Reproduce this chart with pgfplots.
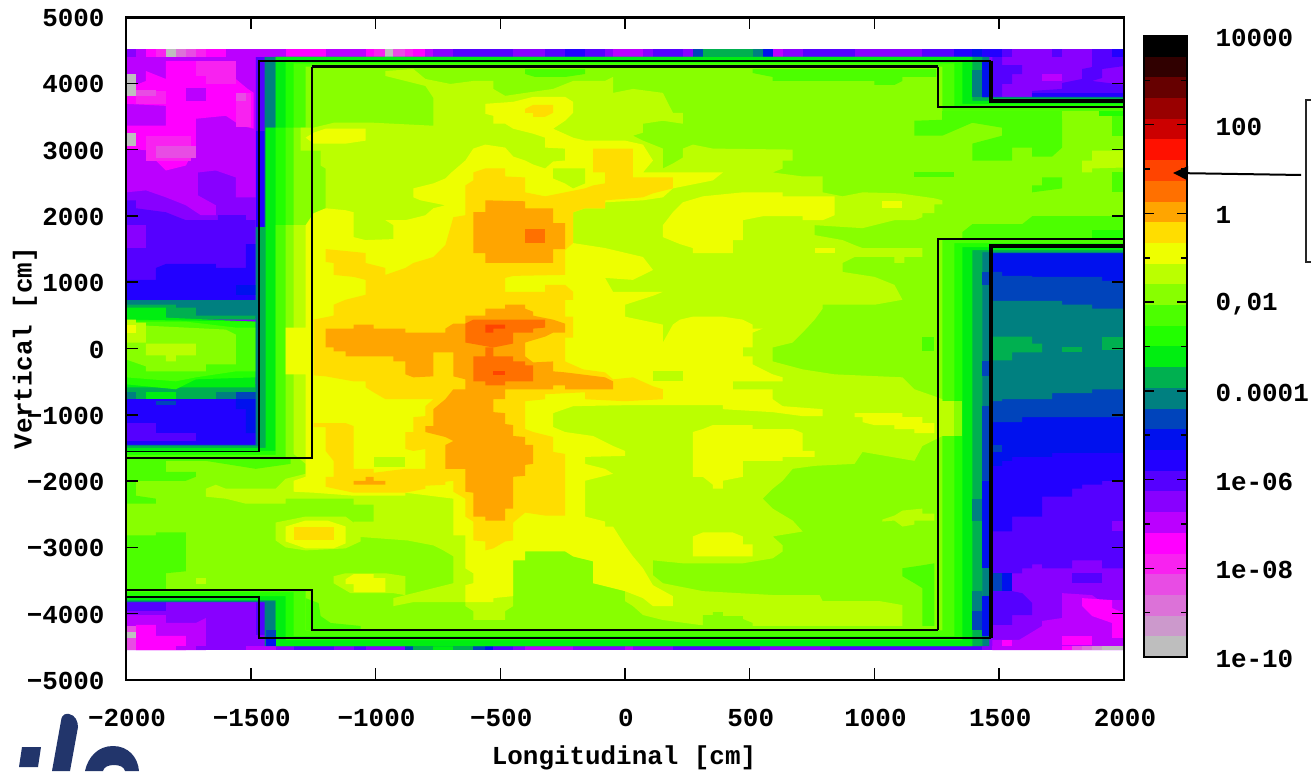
\documentclass[border=0pt]{standalone}
\usepackage{fontspec}
\setmainfont{Liberation Mono}[BoldFont={Liberation Mono Bold}]
\usepackage{pgfplots}
\pgfplotsset{compat=1.18}
\usetikzlibrary{arrows.meta}
\definecolor{L01}{HTML}{BEBEBE}\definecolor{L02}{HTML}{CC99CC}\definecolor{L03}{HTML}{DC72D8}
\definecolor{L04}{HTML}{E84CE4}\definecolor{L05}{HTML}{F822F0}\definecolor{L06}{HTML}{FF00FF}
\definecolor{L07}{HTML}{BB00FF}\definecolor{L08}{HTML}{8800FF}\definecolor{L09}{HTML}{5500FF}
\definecolor{L10}{HTML}{2200FF}\definecolor{L11}{HTML}{0011EE}\definecolor{L12}{HTML}{0044BB}
\definecolor{L13}{HTML}{008080}\definecolor{L14}{HTML}{00B050}\definecolor{L15}{HTML}{00EE11}
\definecolor{L16}{HTML}{22FF00}\definecolor{L17}{HTML}{4CFF00}\definecolor{L18}{HTML}{88FF00}
\definecolor{L19}{HTML}{BBFF00}\definecolor{L20}{HTML}{EEFF00}\definecolor{L21}{HTML}{FFDD00}
\definecolor{L22}{HTML}{FFA500}\definecolor{L23}{HTML}{FF7000}\definecolor{L24}{HTML}{FF4400}
\definecolor{L25}{HTML}{FF1100}\definecolor{L26}{HTML}{CC0000}\definecolor{L27}{HTML}{990000}
\definecolor{L28}{HTML}{660000}\definecolor{L29}{HTML}{300000}\definecolor{L30}{HTML}{000000}
\definecolor{logoblue}{HTML}{22356B}
\newcommand{\lay}[2]{\addplot[fill=#1,draw=none,forget plot] coordinates {#2} -- cycle;}
\newcommand{\st}[5]{\addplot[fill=#1,draw=none,forget plot] coordinates {(#2,#4)(#3,#4)(#3,#5)(#2,#5)} -- cycle;}
\newcommand{\band}[3]{\addplot[fill=#1,draw=none,forget plot] coordinates {(0,#2)(1,#2)(1,#3)(0,#3)} -- cycle;}
\newcommand{\tf}{\fontsize{26}{26}\selectfont\bfseries}
\begin{document}
\begin{tikzpicture}[x=1bp,y=1bp]
\path[use as bounding box] (0,0) rectangle (1311,771);
\begin{axis}[
  at={(126bp,91bp)},anchor=south west,scale only axis,width=998bp,height=663bp,
  xmin=-2000,xmax=2000,ymin=-5000,ymax=5000,
  axis on top,
  axis line style={line width=2bp},
  tick style={line width=1.5bp,black},
  tick align=inside,major tick length=12bp,
  xtick={-2000,-1500,-1000,-500,0,500,1000,1500,2000},
  xticklabels={−2000,−1500,−1000,−500,0,500,1000,1500,2000},
  ytick={-5000,-4000,-3000,-2000,-1000,0,1000,2000,3000,4000,5000},
  yticklabels={−5000,−4000,−3000,−2000,−1000,0,1000,2000,3000,4000,5000},
  tick label style={font=\tf},
  xticklabel style={yshift=-26bp,xshift=1bp},
  yticklabel style={xshift=-18bp,yshift=-1bp},
  clip=true,
]
% base
\lay{L08}{(-2000,-4550)(2000,-4550)(2000,4515)(-2000,4515)}
% upper-left block
\lay{L07}{(-2000,4515)(-1480,4515)(-1480,2280)(-1560,2280)(-1560,2580)(-1640,2685)(-1712,2655)(-1712,2310)(-1640,2160)(-1640,2010)(-1700,2010)(-1760,2160)(-1840,2280)(-1920,2385)(-2000,2355)}
\lay{L06}{(-1840,4335)(-1640,4335)(-1560,4155)(-1560,4065)(-1512,3915)(-1488,3855)(-1488,3315)(-1540,3360)(-1600,3510)(-1720,3465)(-1720,3060)(-1760,2760)(-1840,2685)(-1880,2835)(-1900,2985)(-2000,3015)(-2000,3360)(-1840,3360)(-1840,3660)(-2000,3690)(-2000,3915)(-1920,4035)(-1920,4185)(-1840,4065)}
\lay{L07}{(-1760,3930)(-1680,3930)(-1680,3735)(-1760,3735)}
\lay{L05}{(-1960,3885)(-1840,3885)(-1840,3690)(-1960,3690)}
\lay{L05}{(-1720,4335)(-1560,4335)(-1560,4110)(-1720,4110)}
\lay{L05}{(-1680,4110)(-1560,4110)(-1560,3990)(-1680,3990)}
\lay{L05}{(-1560,3855)(-1500,3855)(-1500,3345)(-1560,3345)}
\lay{L05}{(-1920,3210)(-1740,3210)(-1740,2835)(-1920,2835)}
\lay{L04}{(-1880,3060)(-1720,3060)(-1720,2880)(-1880,2880)}
\lay{L04}{(-1960,3900)(-1880,3900)(-1880,3810)(-1960,3810)}
\lay{L04}{(-1560,3855)(-1520,3855)(-1520,3735)(-1560,3735)}
\lay{L01}{(-2000,4140)(-1960,4140)(-1960,3810)(-2000,3810)}
\lay{L01}{(-2000,3255)(-1960,3255)(-1960,3060)(-2000,3060)}
\lay{L09}{(-2000,2235)(-1960,2235)(-1960,2115)(-1840,2055)(-1760,1935)(-1632,1935)(-1632,2010)(-1520,2010)(-1520,1935)(-1480,1935)(-1480,735)(-2000,735)}
\lay{L08}{(-2000,1860)(-1920,1860)(-1920,1515)(-2000,1515)}
\lay{L09}{(-1480,4400)(-1440,4400)(-1440,3285)(-1480,3285)}
\lay{L10}{(-1480,3285)(-1440,3285)(-1440,1830)(-1480,1830)}
\lay{L10}{(-2000,1035)(-1880,1035)(-1880,1215)(-1840,1275)(-1640,1275)(-1640,1215)(-1520,1215)(-1520,1575)(-1480,1575)(-1480,660)(-2000,660)}
\lay{L11}{(-1560,960)(-1480,960)(-1480,810)(-1560,810)}
% left chamber
\lay{L13}{(-2000,735)(-1480,735)(-1480,465)(-2000,465)}
\lay{L14}{(-2000,660)(-1800,660)(-1800,615)(-1720,615)(-1720,495)(-1480,495)(-1480,435)(-2000,435)}
\lay{L13}{(-2000,-540)(-1480,-540)(-1480,-780)(-2000,-780)}
\lay{L14}{(-2000,-585)(-1480,-585)(-1480,-765)(-2000,-765)}
\lay{L13}{(-1640,-660)(-1560,-660)(-1560,-765)(-1640,-765)}
\lay{L12}{(-1560,-660)(-1480,-660)(-1480,-765)(-1560,-765)}
\lay{L15}{(-1920,-660)(-1800,-660)(-1800,-765)(-1920,-765)}
\lay{L13}{(-2000,-660)(-1960,-660)(-1960,-765)(-2000,-765)}
\lay{L15}{(-2000,615)(-1840,615)(-1840,465)(-1480,405)(-1480,-585)(-2000,-585)}
\lay{L16}{(-2000,435)(-1480,405)(-1480,-435)(-1720,-465)(-1800,-615)(-2000,-540)}
\lay{L17}{(-2000,405)(-1760,405)(-1560,315)(-1480,315)(-1480,-345)(-1560,-345)(-1720,-435)(-1800,-495)(-2000,-435)}
\lay{L18}{(-2000,405)(-1920,345)(-1600,285)(-1560,210)(-1560,-240)(-1680,-240)(-1680,-345)(-1920,-345)(-1920,-270)(-2000,-165)}
\lay{L19}{(-1920,75)(-1720,75)(-1720,-105)(-1800,-105)(-1800,-195)(-1840,-195)(-1840,-105)(-1920,-105)}
\lay{L19}{(-2000,435)(-1960,435)(-1960,390)(-1920,390)(-1920,90)(-2000,90)}
\lay{L20}{(-2000,360)(-1960,360)(-1960,240)(-2000,240)}
\lay{L10}{(-2000,-765)(-1480,-765)(-1480,-1455)(-2000,-1455)}
\lay{L11}{(-1560,-765)(-1480,-765)(-1480,-1275)(-1520,-1275)(-1520,-915)(-1560,-915)}
\lay{L12}{(-1880,-795)(-1800,-795)(-1800,-855)(-1880,-855)}
\lay{L09}{(-2000,-1125)(-1880,-1125)(-1880,-1275)(-1720,-1275)(-1720,-1395)(-2000,-1395)}
% bottom-left block
\lay{L09}{(-2000,-3825)(-1840,-3825)(-1840,-3960)(-2000,-3960)}
\lay{L07}{(-2000,-4020)(-1840,-4020)(-1840,-4140)(-1720,-4140)(-1680,-4065)(-1680,-4550)(-2000,-4550)}
\lay{L06}{(-1960,-4170)(-1880,-4170)(-1880,-4335)(-1760,-4335)(-1760,-4550)(-1960,-4550)}
\lay{L04}{(-2000,-4185)(-1960,-4185)(-1960,-4550)(-2000,-4550)}
\lay{L01}{(-2000,-4275)(-1960,-4275)(-1960,-4365)(-2000,-4365)}
\lay{L09}{(-1480,-3825)(-1440,-3825)(-1440,-4320)(-1480,-4320)}
% upper-right block
\lay{L09}{(1472,4395)(1512,4395)(1512,4275)(1592,4275)(1592,4140)(1552,4140)(1552,3990)(1512,3990)(1512,3795)(1472,3795)}
\lay{L09}{(1872,4395)(2000,4395)(2000,4260)(1912,4215)(1912,4080)(1872,4035)(2000,3975)(2000,3795)(1632,3795)(1632,3885)(1752,3915)(1752,4005)(1832,4065)(1832,4215)(1872,4245)}
\lay{L07}{(1672,4140)(1752,4140)(1752,4035)(1672,4035)}
\lay{L10}{(1632,3855)(2000,3855)(2000,3795)(1632,3795)}
% lower-right block
\lay{L09}{(1460,1440)(2000,1440)(2000,-3315)(1912,-3315)(1912,-3195)(1792,-3195)(1792,-3315)(1672,-3315)(1672,-3255)(1632,-3255)(1632,-3315)(1592,-3315)(1592,-3390)(1460,-3390)}
\lay{L08}{(1952,-2595)(2000,-2595)(2000,-2760)(1952,-2760)}
\lay{L10}{(1460,1440)(2000,1440)(2000,-1995)(1912,-1995)(1912,-2055)(1832,-2055)(1832,-2115)(1792,-2115)(1792,-2235)(1672,-2235)(1672,-2535)(1552,-2535)(1552,-2760)(1460,-2760)}
\lay{L11}{(1460,1440)(2000,1440)(2000,-1575)(1712,-1575)(1712,-1635)(1552,-1635)(1552,-1695)(1512,-1695)(1512,-1770)(1460,-1770)}
\lay{L12}{(1472,-1455)(1512,-1455)(1512,-1560)(1472,-1560)}
\lay{L12}{(1460,1155)(1512,1155)(1512,1095)(1632,1095)(1632,1080)(1912,1080)(1912,1020)(2000,1020)(2000,-1035)(1592,-1035)(1592,-1110)(1460,-1110)}
\lay{L13}{(1460,720)(1752,720)(1752,660)(1872,660)(1872,600)(2000,600)(2000,-615)(1872,-615)(1872,-675)(1712,-675)(1712,-765)(1512,-765)(1512,-795)(1460,-795)}
\lay{L14}{(1460,180)(1632,180)(1632,75)(1672,75)(1672,-60)(1552,-60)(1552,-180)(1460,-180)}
\lay{L14}{(1752,15)(1832,15)(1832,-60)(1752,-60)}
\lay{L14}{(1912,180)(2000,180)(2000,-30)(1912,-30)}
\lay{L11}{(1472,-3390)(1552,-3390)(1552,-3660)(1472,-3660)}
\lay{L12}{(1472,-3390)(1512,-3390)(1512,-3660)(1472,-3660)}
\lay{L09}{(1472,-3660)(1552,-3660)(1592,-3690)(1632,-3840)(1632,-4020)(1552,-4020)(1552,-4170)(1472,-4170)}
\lay{L07}{(1752,-3690)(1872,-3720)(1900,-3795)(2000,-3795)(2000,-4550)(1472,-4550)(1472,-4395)(1580,-4395)(1672,-4185)(1672,-4110)(1752,-4065)(1752,-3810)}
\lay{L09}{(1792,-3390)(1912,-3390)(1912,-3540)(1792,-3540)}
\lay{L06}{(1832,-3765)(1952,-3795)(1952,-3915)(2000,-3990)(2000,-4365)(1952,-4365)(1952,-4140)(1872,-4035)(1832,-3885)}
\lay{L06}{(1752,-4335)(1872,-4335)(1872,-4470)(1752,-4470)}
\lay{L06}{(1512,-4395)(1552,-4395)(1552,-4550)(1512,-4550)}
% top strip
\st{L08}{-2000}{-1960}{4400}{4515}\st{L07}{-1960}{-1920}{4400}{4515}\st{L06}{-1920}{-1880}{4400}{4515}
\st{L05}{-1880}{-1840}{4400}{4515}\st{L01}{-1840}{-1800}{4400}{4515}\st{L03}{-1800}{-1760}{4400}{4515}
\st{L04}{-1760}{-1720}{4400}{4515}\st{L05}{-1720}{-1680}{4400}{4515}\st{L06}{-1680}{-1600}{4400}{4515}
\st{L07}{-1600}{-1360}{4400}{4515}\st{L06}{-1360}{-1200}{4400}{4515}\st{L07}{-1200}{-1040}{4400}{4515}
\st{L06}{-1040}{-1008}{4400}{4515}\st{L05}{-1008}{-960}{4400}{4515}\st{L01}{-960}{-928}{4400}{4515}
\st{L04}{-928}{-880}{4400}{4515}\st{L05}{-880}{-848}{4400}{4515}\st{L06}{-848}{-800}{4400}{4515}
\st{L07}{-800}{-768}{4400}{4515}\st{L08}{-768}{-688}{4400}{4515}\st{L09}{-688}{-448}{4400}{4515}
\st{L08}{-448}{-320}{4400}{4515}\st{L09}{-320}{-240}{4400}{4515}\st{L10}{-240}{-160}{4400}{4515}
\st{L09}{-160}{-80}{4400}{4515}\st{L08}{-80}{-48}{4400}{4515}\st{L07}{-48}{72}{4400}{4515}
\st{L08}{72}{112}{4400}{4515}\st{L09}{112}{232}{4400}{4515}\st{L08}{232}{272}{4400}{4515}
\st{L12}{272}{312}{4400}{4515}\st{L14}{312}{512}{4400}{4515}\st{L13}{512}{552}{4400}{4515}
\st{L11}{552}{592}{4400}{4515}\st{L07}{592}{632}{4400}{4515}\st{L08}{632}{712}{4400}{4515}
\st{L09}{712}{920}{4400}{4515}\st{L08}{920}{1192}{4400}{4515}\st{L09}{1192}{1320}{4400}{4515}
\st{L10}{1320}{1392}{4400}{4515}\st{L11}{1392}{1432}{4400}{4515}\st{L10}{1432}{1512}{4400}{4515}
\st{L09}{1512}{1552}{4400}{4515}\st{L08}{1552}{1712}{4400}{4515}\st{L09}{1712}{1752}{4400}{4515}
\st{L08}{1752}{1872}{4400}{4515}\st{L09}{1872}{1952}{4400}{4515}\st{L10}{1952}{2000}{4400}{4515}
% bottom strip
\st{L04}{-2000}{-1960}{-4550}{-4490}\st{L06}{-1960}{-1800}{-4550}{-4490}\st{L07}{-1800}{-1720}{-4550}{-4490}
\st{L08}{-1720}{-1520}{-4550}{-4490}\st{L07}{-1520}{-1400}{-4550}{-4490}\st{L08}{-1400}{-1328}{-4550}{-4490}
\st{L09}{-1328}{-1168}{-4550}{-4490}\st{L08}{-1168}{-1088}{-4550}{-4490}\st{L09}{-1088}{-1040}{-4550}{-4490}
\st{L08}{-1040}{-880}{-4550}{-4490}\st{L12}{-880}{-848}{-4550}{-4490}\st{L14}{-848}{-768}{-4550}{-4490}
\st{L15}{-768}{-688}{-4550}{-4490}\st{L14}{-688}{-608}{-4550}{-4490}\st{L12}{-608}{-560}{-4550}{-4490}
\st{L11}{-560}{-528}{-4550}{-4490}\st{L09}{-528}{-448}{-4550}{-4490}\st{L08}{-448}{-400}{-4550}{-4490}
\st{L07}{-400}{-208}{-4550}{-4490}\st{L08}{-208}{0}{-4550}{-4490}\st{L07}{0}{32}{-4550}{-4490}
\st{L08}{32}{192}{-4550}{-4490}\st{L09}{192}{540}{-4550}{-4490}\st{L08}{540}{820}{-4550}{-4490}
\st{L09}{820}{1432}{-4550}{-4490}\st{L08}{1432}{1472}{-4550}{-4490}\st{L07}{1472}{1752}{-4550}{-4490}
\st{L06}{1752}{1792}{-4550}{-4490}\st{L04}{1792}{1832}{-4550}{-4490}\st{L03}{1832}{1872}{-4550}{-4490}
\st{L02}{1872}{1912}{-4550}{-4490}\st{L01}{1912}{2000}{-4550}{-4490}
% wall rings
\lay{L13}{(-1444,4400)(1460,4400)(1460,3795)(2000,3795)(2000,1440)(1460,1440)(1460,-4490)(-1444,-4490)(-1444,-3825)(-2000,-3825)(-2000,-1455)(-1480,-1455)(-1480,1830)(-1444,1830)}
\lay{L14}{(-1400,4400)(1432,4400)(1432,3780)(2000,3780)(2000,1455)(1432,1455)(1432,-4490)(-1400,-4490)(-1400,-3810)(-2000,-3810)(-2000,-1470)(-1468,-1470)(-1468,1830)(-1440,1830)(-1440,3330)(-1400,3330)}
\lay{L15}{(-1400,4400)(1392,4400)(1392,3735)(2000,3735)(2000,1485)(1392,1485)(1392,-4490)(-1400,-4490)(-1400,-3795)(-2000,-3795)(-2000,-1500)(-1440,-1500)(-1440,3330)(-1400,3330)}
\lay{L16}{(-1360,4330)(1352,4330)(1352,3690)(2000,3690)(2000,1530)(1352,1530)(1352,-4400)(-1360,-4400)(-1360,-3735)(-2000,-3735)(-2000,-1545)(-1400,-1545)(-1400,3330)(-1360,3330)}
\lay{L17}{(-1328,4300)(1320,4300)(1320,3645)(2000,3645)(2000,1590)(1320,1590)(1320,-4340)(-1328,-4340)(-1328,-3675)(-2000,-3675)(-2000,-1605)(-1400,-1605)(-1400,1860)(-1360,1860)(-1360,3330)(-1328,3330)}
\lay{L18}{(-1280,4250)(1272,4250)(1272,3585)(2000,3585)(2000,1650)(1272,1650)(1272,-4250)(-1280,-4250)(-1280,-3630)(-2000,-3630)(-2000,-1665)(-1360,-1665)(-1360,1860)(-1328,1860)(-1328,3330)(-1280,3330)}
% wall overlays
\lay{L13}{(1392,4200)(1432,4200)(1432,3795)(1392,3795)}
\lay{L11}{(1432,4335)(1460,4335)(1460,3795)(1432,3795)}
\st{L12}{1432}{1460}{960}{1155}\st{L12}{1432}{1460}{-420}{-195}\st{L12}{1432}{1460}{-1995}{-870}
\st{L11}{1432}{1460}{-3315}{-1995}\st{L11}{1432}{1460}{-4335}{-3735}
\st{L13}{1392}{1432}{-2595}{-2265}\st{L13}{1392}{1432}{-3960}{-3660}\st{L12}{1392}{1432}{-4245}{-3960}
\st{L12}{-1440}{-1400}{-4365}{-4245}\st{L11}{-1440}{-1400}{-4490}{-4365}
% L17 patches
\lay{L17}{(-2000,-1650)(-1340,-1650)(-1340,-1740)(-1480,-1815)(-1680,-1695)(-1840,-1695)(-1840,-1860)(-1720,-1860)(-1720,-1935)(-1760,-1995)(-1960,-1995)(-1960,-2220)(-1880,-2265)(-1880,-2340)(-2000,-2340)}
\lay{L17}{(-2000,-2820)(-1880,-2820)(-1880,-2775)(-1760,-2775)(-1760,-3360)(-1840,-3390)(-1840,-3630)(-2000,-3630)}
\lay{L17}{(-1280,-3765)(-1228,-3840)(-1220,-4035)(-1180,-4140)(-1060,-4185)(-1060,-4250)(-1280,-4250)}
\lay{L17}{(-400,4215)(-160,4215)(-160,4140)(-240,4095)(-360,4095)(-400,4140)}
\lay{L17}{(512,4215)(1248,4215)(1248,4095)(1112,4095)(1112,4035)(1080,3975)(1000,3975)(1000,4035)(592,4035)(592,4095)(512,4155)}
\lay{L17}{(1160,3435)(1392,3465)(1752,3465)(1752,3030)(1712,2895)(1632,2895)(1632,3030)(1552,3030)(1552,2835)(1392,2835)(1392,3090)(1512,3210)(1512,3330)(1392,3405)(1272,3210)(1160,3210)}
\lay{L17}{(1272,3585)(1752,3585)(1752,3435)(1272,3435)}
\lay{L17}{(1952,3585)(2000,3585)(2000,3210)(1952,3210)}
\lay{L17}{(1672,2580)(1752,2580)(1752,2415)(1632,2355)(1632,2460)(1672,2460)}
\lay{L17}{(1952,2655)(2000,2655)(2000,2355)(1952,2355)}
\lay{L17}{(1160,2655)(1320,2655)(1320,2580)(1160,2580)}
\lay{L17}{(1352,1755)(1392,1875)(1592,1875)(1632,1995)(2000,1995)(2000,1635)(1352,1635)}
\lay{L16}{(1872,1785)(2000,1785)(2000,1635)(1872,1635)}
\lay{L16}{(1900,3585)(2000,3585)(2000,3510)(1900,3510)}
\lay{L17}{(1112,-3315)(1192,-3270)(1240,-3240)(1240,-4185)(1192,-4185)(1192,-3615)(1160,-3540)(1112,-3435)}
\lay{L17}{(1192,180)(1240,180)(1240,-45)(1192,-45)}
% L19 main
\lay{L19}{(-1328,-1590)(-1280,-1740)(-1280,-1890)(-1360,-1965)(-1400,-2115)(-1600,-2115)(-1640,-2055)(-1680,-2115)(-1680,-2235)(-1600,-2265)(-1520,-2340)(-1360,-2340)(-1360,-2265)(-1088,-2265)(-1088,-2355)(-1008,-2355)(-1008,-2610)(-1088,-2610)(-1088,-2835)(-872,-2895)(-768,-2970)(-728,-3045)(-688,-3135)(-688,-3540)(-768,-3615)(-880,-3720)(-928,-3765)(-928,-3885)(-848,-3825)(-640,-3825)(-640,-3885)(-608,-3960)(-608,-4095)(-480,-4095)(-480,-3960)(-448,-3885)(-448,-3195)(-400,-3045)(-240,-3045)(-208,-3135)(-128,-3210)(-128,-3540)(0,-3615)(0,-3810)(32,-3885)(72,-4020)(152,-4095)(300,-4170)(420,-4185)(1112,-4185)(1112,-3870)(1020,-3810)(792,-3810)(780,-3720)(600,-3720)(312,-3660)(152,-3540)(112,-3420)(112,-3195)(232,-3240)(472,-3240)(592,-3165)(632,-3060)(632,-2970)(592,-2835)(712,-2760)(672,-2595)(592,-2415)(552,-2265)(592,-2115)(632,-1995)(672,-1815)(760,-1770)(920,-1740)(952,-1560)(1160,-1695)(1192,-1470)(1272,-1320)(1272,-765)(1240,-720)(1160,-615)(1112,-435)(840,-390)(712,-315)(592,-195)(592,15)(672,90)(712,240)(760,435)(792,600)(792,660)(1000,660)(1112,735)(1080,960)(1000,1080)(872,1155)(872,1290)(920,1380)(1080,1380)(1080,1290)(1120,1290)(1120,1380)(1192,1380)(1192,1515)(952,1515)(920,1560)(872,1635)(760,1710)(760,1860)(952,1815)(1080,1935)(1160,1935)(1192,1980)(1192,2040)(1240,2040)(1240,2175)(1272,2175)(1272,2235)(1240,2265)(1100,2340)(952,2355)(872,2295)(792,2355)(792,2595)(712,2595)(592,2655)(632,2715)(632,2835)(672,2835)(672,3000)(352,3015)(272,3075)(232,3015)(232,2880)(192,2790)(152,2715)(152,3015)(112,3075)(72,3135)(32,3210)(72,3255)(72,3390)(152,3435)(232,3390)(232,3555)(192,3555)(152,3855)(32,3915)(-48,3855)(-48,4095)(-80,4035)(-208,4035)(-288,3915)(-400,3855)(-480,3810)(-528,3915)(-528,4035)(-608,4035)(-700,3990)(-800,4065)(-848,4215)(-960,4185)(-960,4110)(-800,3960)(-768,3780)(-768,3360)(-1008,3405)(-1168,3405)(-1248,3330)(-1300,3330)(-1300,2985)(-1220,2985)(-1220,2760)(-1200,2715)(-1200,1860)(-1328,1860)}
\lay{L18}{(312,-4185)(312,-4020)(352,-4020)(352,-3975)(392,-3975)(392,-4035)(472,-4035)(472,-4080)(512,-4140)(512,-4185)}
\lay{L19}{(1032,-2580)(1080,-2520)(1112,-2445)(1192,-2415)(1192,-2490)(1240,-2490)(1240,-2595)(1160,-2595)(1160,-2655)(1112,-2685)(1080,-2595)(1032,-2610)}
\lay{L19}{(1872,2985)(2000,2985)(2000,2730)(1872,2715)(1872,2655)(1832,2655)(1832,2835)(1872,2835)}
\lay{L19}{(-1720,-3465)(-1680,-3465)(-1680,-3555)(-1720,-3555)}
\lay{L19}{(1272,-795)(1320,-795)(1320,-1320)(1272,-1320)}
\lay{L18}{(1320,-795)(1352,-795)(1352,-1320)(1320,-1320)}
\lay{L19}{(-1168,-3540)(-1168,-3435)(-1120,-3390)(-960,-3390)(-880,-3435)(-880,-3720)(-928,-3690)(-1100,-3690)}
\lay{L19}{(-1400,-2625)(-1360,-2595)(-1280,-2535)(-1120,-2535)(-1088,-2625)(-1060,-2640)(-1060,-2910)(-1120,-3015)(-1280,-3045)(-1360,-3000)(-1400,-2895)}
% L20
\lay{L20}{(-640,2835)(-608,3015)(-560,3075)(-480,3030)(-448,2895)(-400,2835)(-368,2775)(-320,2715)(-288,2820)(-240,2835)(-240,3015)(-320,3030)(-320,3180)(-368,3240)(-448,3315)(-480,3390)(-528,3390)(-528,3510)(-560,3540)(-560,3690)(-448,3720)(-368,3795)(-240,3795)(-208,3720)(-208,3555)(-240,3435)(-288,3315)(-208,3180)(-160,3135)(0,3135)(72,3075)(112,2835)(72,2655)(392,2655)(352,2535)(192,2415)(152,2280)(72,2235)(-80,2205)(-80,2115)(-160,2115)(-208,2055)(-208,1590)(-80,1515)(72,1380)(112,1185)(32,1035)(-80,1065)(-48,855)(152,855)(112,795)(0,660)(0,480)(152,360)(152,90)(192,360)(220,435)(272,480)(392,480)(472,435)(512,360)(512,300)(552,300)(512,240)(512,15)(472,15)(472,-120)(512,-120)(512,-240)(552,-315)(592,-390)(632,-435)(632,-495)(432,-495)(432,-615)(592,-615)(592,-765)(632,-870)(792,-915)(792,-1020)(712,-1020)(592,-960)(392,-915)(392,-855)(220,-855)(0,-855)(-208,-870)(-288,-975)(-288,-1185)(-240,-1260)(-128,-1320)(-80,-1410)(-48,-1470)(0,-1545)(0,-1620)(-160,-1635)(-160,-1740)(-80,-1815)(-48,-1890)(-160,-1995)(-160,-2535)(-80,-2610)(-80,-2685)(-48,-2685)(0,-2970)(32,-3135)(72,-3315)(112,-3570)(192,-3735)(192,-3885)(112,-3885)(72,-3765)(0,-3660)(-128,-3540)(-128,-3210)(-208,-3135)(-240,-3060)(-400,-3060)(-400,-3195)(-448,-3195)(-448,-3735)(-528,-3765)(-528,-3825)(-640,-3825)(-640,-3570)(-608,-3540)(-608,-3390)(-640,-3315)(-640,-2820)(-688,-2820)(-688,-2265)(-880,-2175)(-880,-2220)(-1088,-2220)(-1248,-2175)(-1328,-2160)(-1328,-1995)(-1280,-1935)(-1280,-390)(-1360,-390)(-1360,315)(-1280,315)(-1280,1860)(-1248,2040)(-1200,2115)(-1120,2085)(-1088,2055)(-1088,1680)(-1040,1635)(-928,1650)(-928,1860)(-960,1935)(-880,1935)(-800,2010)(-768,2115)(-720,2160)(-820,2235)(-848,2280)(-848,2415)(-768,2490)(-720,2565)(-700,2640)}
\lay{L19}{(-288,2715)(-160,2715)(-160,2490)(-208,2415)(-240,2490)(-288,2565)}
\lay{L19}{(-1008,-1635)(-880,-1635)(-880,-1785)(-1008,-1785)}
\lay{L19}{(112,-345)(232,-345)(232,-495)(112,-495)}
\lay{L20}{(152,1680)(152,1860)(192,2055)(232,2205)(312,2295)(472,2355)(632,2355)(632,2295)(840,2295)(840,2010)(792,1935)(712,1935)(712,1995)(552,1995)(472,1935)(472,1635)(432,1635)(432,1440)(272,1440)(272,1515)(220,1575)}
\lay{L20}{(-1280,3180)(-1248,3255)(-1200,3315)(-1040,3315)(-1040,3135)(-1120,3090)(-1248,3090)}
\lay{L20}{(272,-1260)(312,-1215)(352,-1155)(512,-1155)(512,-1215)(672,-1215)(712,-1275)(712,-1545)(760,-1545)(760,-1635)(632,-1635)(632,-1695)(472,-1695)(472,-1935)(392,-1995)(392,-2115)(352,-2115)(352,-2055)(312,-1935)(272,-1935)}
\lay{L20}{(272,-2835)(312,-2775)(432,-2775)(472,-2835)(472,-2955)(512,-2955)(512,-3135)(272,-3135)}
\lay{L20}{(920,-975)(1112,-975)(1112,-1035)(1192,-1035)(1192,-1125)(1240,-1125)(1240,-1275)(1160,-1275)(1160,-1215)(1080,-1215)(1080,-1155)(1000,-1155)(952,-1110)(952,-1035)(920,-1035)}
\lay{L20}{(760,1515)(840,1515)(840,1440)(760,1440)}
\lay{L20}{(1032,2220)(1112,2220)(1112,2115)(1032,2115)}
\lay{L20}{(-1120,-3480)(-1088,-3405)(-1008,-3405)(-1008,-3465)(-960,-3465)(-960,-3675)(-1088,-3675)(-1088,-3555)(-1120,-3555)}
\lay{L20}{(-1360,-2685)(-1280,-2595)(-1192,-2595)(-1120,-2685)(-1120,-2940)(-1168,-3015)(-1280,-3015)(-1360,-2910)}
\lay{L21}{(-1328,-2685)(-1168,-2685)(-1168,-2895)(-1328,-2895)}
% L21 main
\lay{L21}{(-608,2655)(-560,2715)(-480,2715)(-480,2595)(-400,2580)(-400,2355)(-320,2295)(-240,2355)(-160,2415)(-128,2460)(-80,2490)(-80,2655)(-128,2655)(-128,3015)(32,3015)(32,2580)(192,2580)(192,2415)(112,2340)(72,2280)(-80,2235)(-80,2115)(-160,2115)(-208,2055)(-208,1590)(-240,1485)(-240,1110)(-448,1095)(-480,1065)(-480,855)(-320,855)(-320,960)(-240,960)(-208,855)(-208,735)(-240,735)(-240,480)(-208,480)(-208,165)(-240,165)(-240,-195)(-168,-315)(-80,-360)(-48,-465)(32,-435)(112,-570)(152,-615)(152,-765)(0,-795)(-160,-765)(-160,-660)(-320,-690)(-320,-765)(-400,-795)(-400,-1215)(-368,-1260)(-288,-1335)(-288,-1560)(-240,-1590)(-240,-2520)(-320,-2520)(-400,-2475)(-448,-2625)(-448,-2895)(-480,-2910)(-528,-3015)(-560,-3045)(-560,-2910)(-608,-2895)(-608,-2610)(-640,-2535)(-640,-2265)(-688,-2160)(-688,-1995)(-720,-2010)(-720,-2055)(-800,-2070)(-800,-2115)(-880,-2175)(-1088,-2175)(-1200,-2085)(-1200,-1935)(-1168,-1935)(-1168,-1695)(-1200,-1545)(-1200,-1185)(-1248,-1185)(-1248,-1125)(-1120,-1125)(-1088,-1170)(-1088,-1815)(-1008,-1815)(-1008,-1875)(-880,-1815)(-800,-1815)(-800,-1515)(-848,-1545)(-880,-1515)(-880,-1260)(-848,-1260)(-848,-1035)(-800,-1020)(-800,-870)(-768,-765)(-848,-765)(-960,-765)(-1008,-660)(-1040,-585)(-1040,-495)(-1088,-495)(-1200,-420)(-1248,-405)(-1248,435)(-1168,495)(-1168,660)(-1120,735)(-1040,810)(-1040,1035)(-1088,1080)(-1168,1110)(-1168,1290)(-1200,1305)(-1200,1500)(-1040,1440)(-1040,1290)(-960,1215)(-960,1110)(-880,1215)(-848,1290)(-768,1380)(-720,1560)(-688,1980)(-640,2010)(-640,2460)(-608,2535)}
\lay{L21}{(-400,3615)(-368,3675)(-288,3675)(-288,3555)(-320,3495)(-368,3495)(-368,3555)(-400,3555)}
% L22
\lay{L22}{(-560,2235)(-400,2220)(-400,2115)(-288,2115)(-288,1890)(-240,1890)(-240,1500)(-288,1500)(-288,1290)(-560,1290)(-560,1440)(-608,1440)(-608,2055)(-560,2055)}
\lay{L23}{(-400,1800)(-320,1800)(-320,1590)(-400,1590)}
\lay{L22}{(-1200,300)(-1088,300)(-1088,360)(-1008,360)(-1008,300)(-880,300)(-880,240)(-720,240)(-720,300)(-688,375)(-640,375)(-640,495)(-560,495)(-560,600)(-480,600)(-480,660)(-400,660)(-400,600)(-368,555)(-368,495)(-288,435)(-240,375)(-240,240)(-288,240)(-320,180)(-400,90)(-400,-15)(-400,-120)(-368,-210)(-288,-195)(-288,-345)(-240,-360)(-80,-435)(-48,-495)(-48,-615)(-240,-615)(-240,-555)(-288,-555)(-288,-615)(-480,-615)(-480,-765)(-528,-765)(-528,-960)(-480,-975)(-480,-1140)(-448,-1155)(-448,-1320)(-400,-1335)(-400,-1455)(-368,-1455)(-368,-1740)(-400,-1755)(-400,-1920)(-448,-1935)(-448,-2415)(-480,-2415)(-480,-2595)(-560,-2595)(-560,-2535)(-608,-2535)(-608,-2175)(-640,-2160)(-640,-1815)(-720,-1815)(-720,-1455)(-688,-1395)(-720,-1335)(-800,-1260)(-800,-1170)(-768,-1170)(-768,-915)(-720,-765)(-688,-615)(-640,-615)(-640,-465)(-688,-420)(-688,-60)(-768,-60)(-768,-420)(-848,-435)(-880,-390)(-880,-195)(-928,-195)(-928,-120)(-1120,-120)(-1120,-45)(-1168,-45)(-1168,15)(-1200,15)}
\lay{L22}{(-1088,-1995)(-1040,-1995)(-1040,-1935)(-1008,-1935)(-1008,-1995)(-960,-1995)(-960,-2055)(-1088,-2055)}
% L23, L24
\lay{L23}{(-640,375)(-608,435)(-320,435)(-320,315)(-368,300)(-368,240)(-448,240)(-448,75)(-528,15)(-640,90)}
\lay{L23}{(-560,15)(-528,15)(-528,-120)(-448,-120)(-448,-195)(-400,-195)(-400,-255)(-368,-255)(-368,-495)(-480,-495)(-480,-555)(-560,-555)(-560,-495)(-608,-495)(-608,-120)(-560,-120)}
\lay{L24}{(-560,360)(-480,360)(-480,300)(-528,300)(-528,240)(-560,240)}
\lay{L24}{(-528,-345)(-480,-345)(-480,-405)(-528,-405)}
% outline
\addplot[black,line width=1.8bp,forget plot] coordinates {(-2000,-1650)(-1255,-1650)(-1255,4250)};
\addplot[black,line width=3bp,forget plot] coordinates {(-1255,4250)(1255,4250)};
\addplot[black,line width=1.6bp,forget plot] coordinates {(1255,4250)(1255,3640)(2000,3640)};
\addplot[black,line width=1.6bp,forget plot] coordinates {(2000,1650)(1255,1650)(1255,-4250)};
\addplot[black,line width=2bp,forget plot] coordinates {(1255,-4250)(-1255,-4250)(-1255,-3650)(-2000,-3650)};
\addplot[black,line width=1.8bp,forget plot] coordinates {(-2000,-1555)(-1468,-1555)(-1468,4340)(1468,4340)};
\addplot[black,line width=4bp,forget plot] coordinates {(1468,4340)(1468,3730)(2000,3730)};
\addplot[black,line width=4bp,forget plot] coordinates {(2000,1545)(1468,1545)(1468,-4360)};
\addplot[black,line width=2bp,forget plot] coordinates {(1468,-4360)(-1468,-4360)(-1468,-3750)(-2000,-3750)};
\draw[black,line width=4bp] (rel axis cs:0,1)--(rel axis cs:1,1);
\end{axis}
\node[font=\tf,anchor=center] at (624,13) {Longitudinal [cm]};
\node[font=\tf,anchor=center,rotate=90] at (25,423) {Vertical [cm]};
\begin{axis}[
  at={(1144bp,114bp)},anchor=south west,scale only axis,width=43bp,height=621bp,
  xmin=0,xmax=1,ymode=log,ymin=1e-10,ymax=1e4,
  axis on top,
  axis line style={line width=2bp},
  tick style={line width=1.5bp,black},
  tick align=inside,major tick length=10bp,minor tick length=6bp,
  xtick=\empty,
  ytick={1e-10,1e-8,1e-6,1e-4,1e-2,1,100,10000},
  minor ytick={1e-9,1e-7,1e-5,1e-3,0.1,10,1000},
  yticklabels={1e-10,1e-08,1e-06,0.0001,{0,01},1,100,10000},
  yticklabel pos=right,
  ytick pos=both,
  yticklabel style={font=\tf,anchor=west,xshift=25bp,yshift=-2bp},
  log ticks with fixed point=false,
]
\band{L01}{1e-10}{2.93e-10}\band{L02}{2.93e-10}{8.57e-10}\band{L03}{8.57e-10}{2.51e-9}
\band{L04}{2.51e-9}{7.36e-9}\band{L05}{7.36e-9}{2.15e-8}\band{L06}{2.15e-8}{6.31e-8}
\band{L07}{6.31e-8}{1.85e-7}\band{L08}{1.85e-7}{5.41e-7}\band{L09}{5.41e-7}{1.58e-6}
\band{L10}{1.58e-6}{4.64e-6}\band{L11}{4.64e-6}{1.36e-5}\band{L12}{1.36e-5}{3.98e-5}
\band{L13}{3.98e-5}{1.17e-4}\band{L14}{1.17e-4}{3.41e-4}\band{L15}{3.41e-4}{1e-3}
\band{L16}{1e-3}{2.93e-3}\band{L17}{2.93e-3}{8.57e-3}\band{L18}{8.57e-3}{2.51e-2}
\band{L19}{2.51e-2}{7.36e-2}\band{L20}{7.36e-2}{0.215}\band{L21}{0.215}{0.631}
\band{L22}{0.631}{1.85}\band{L23}{1.85}{5.41}\band{L24}{5.41}{15.8}
\band{L25}{15.8}{46.4}\band{L26}{46.4}{136}\band{L27}{136}{398}
\band{L28}{398}{1170}\band{L29}{1170}{3410}\band{L30}{3410}{10000}
\end{axis}
% callout
\draw[black,line width=2bp,-{Triangle[length=15bp,width=14bp]}] (1301,596)--(1173,598);
\draw[black!85,line width=1.5bp] (1311,671)--(1306,671)--(1306,509)--(1311,509);
% logo fragment
\begin{scope}
\clip (0,0) rectangle (1311,771);
\fill[logoblue] (22,24)--(41,24)--(38,4)--(19,4)--cycle;
\fill[logoblue] (52,0)--(61,50) .. controls (62,58) and (66,57) .. (69,57) .. controls (75,56) and (78,50) .. (78,44)--(70,0)--cycle;
\fill[logoblue] (85,0) .. controls (88,14) and (98,25) .. (113,25) .. controls (128,25) and (138,14) .. (139,0)--(125,0) .. controls (124,4) and (120,6) .. (114,6) .. controls (108,6) and (104,4) .. (103,0)--cycle;
\end{scope}
\end{tikzpicture}
\end{document}
